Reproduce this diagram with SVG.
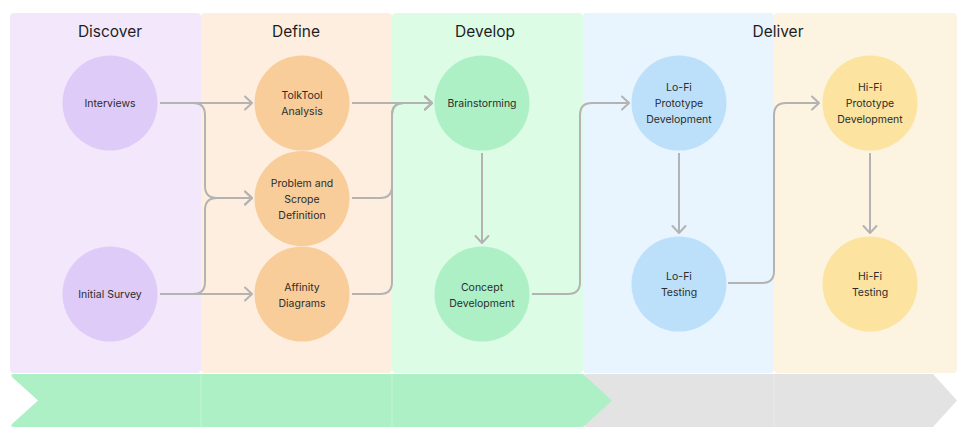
<svg xmlns="http://www.w3.org/2000/svg" width="957" height="430" viewBox="0 0 957 430">
<defs>
<style>
.title{font-family:Inter,"Liberation Sans",sans-serif;font-size:15.5px;fill:#1e1e1e;text-anchor:middle}
.lbl{font-family:Inter,"Liberation Sans",sans-serif;font-size:10.5px;fill:#2c2c2c;text-anchor:middle}
.conn{fill:none;stroke:#b3b3b3;stroke-width:2}
.sep{stroke:#ffffff;stroke-width:1;opacity:0.3}
</style>
<marker id="arr" markerUnits="userSpaceOnUse" markerWidth="20" markerHeight="20" viewBox="-10 -10 20 20" refX="0" refY="0" orient="auto" overflow="visible">
<path d="M-7,-6.5 L0,0 L-7,6.5" fill="none" stroke="#b3b3b3" stroke-width="2" stroke-linecap="round" stroke-linejoin="round"/>
</marker>
</defs>
<rect width="957" height="430" fill="#ffffff"/>
<g id="panels">
<rect x="10" y="13" width="191" height="360" rx="4" fill="#f3e8fb"/>
<rect x="201" y="13" width="191" height="360" rx="4" fill="#fdeee0"/>
<rect x="392" y="13" width="191" height="360" rx="4" fill="#dcfce6"/>
<rect x="583" y="13" width="191" height="360" rx="4" fill="#e8f4fe"/>
<rect x="774" y="13" width="183" height="360" rx="4" fill="#fdf3e1"/>
<text class="title" x="110" y="37">Discover</text>
<text class="title" x="296" y="37">Define</text>
<text class="title" x="485" y="37">Develop</text>
<text class="title" x="778" y="37">Deliver</text>
</g>
<g id="timeline">
<path d="M587,374 H933 L957,400.5 L933,427 H587 Q583,427 583,423 V378 Q583,374 587,374 Z" fill="#e3e3e3"/>
<path d="M14,374 H583 L612,400.5 L583,427 H14 Q10,427 12,424 L38,400.5 L12,377 Q10,374 14,374 Z" fill="#adf0c6"/>
<line class="sep" x1="201" y1="374" x2="201" y2="427"/>
<line class="sep" x1="392" y1="374" x2="392" y2="427"/>
<line class="sep" x1="774" y1="374" x2="774" y2="427"/>
</g>
<g id="connectors">
<path class="conn" d="M160,103 H252" marker-end="url(#arr)"/>
<path class="conn" d="M160,103 H193 Q205,103 205,115 V186 Q205,198 217,198 H252" marker-end="url(#arr)"/>
<path class="conn" d="M160,294 H193 Q205,294 205,282 V210 Q205,198 217,198 H252" marker-end="url(#arr)"/>
<path class="conn" d="M160,294 H252" marker-end="url(#arr)"/>
<path class="conn" d="M352,103 H432" marker-end="url(#arr)"/>
<path class="conn" d="M352,198 H380 Q392,198 392,186 V115 Q392,103 404,103 H432" marker-end="url(#arr)"/>
<path class="conn" d="M352,294 H380 Q392,294 392,282 V115 Q392,103 404,103 H432" marker-end="url(#arr)"/>
<path class="conn" d="M482,153 V243" marker-end="url(#arr)"/>
<path class="conn" d="M532,294 H568 Q580,294 580,282 V115 Q580,103 592,103 H629" marker-end="url(#arr)"/>
<path class="conn" d="M679,153 V233" marker-end="url(#arr)"/>
<path class="conn" d="M728,283 H762 Q774,283 774,271 V115 Q774,103 786,103 H819" marker-end="url(#arr)"/>
<path class="conn" d="M870,153 V233" marker-end="url(#arr)"/>
</g>
<g id="interviews">
<circle cx="110" cy="103" r="47.5" fill="#dfcbf8"/>
<text class="lbl" x="110" y="107">Interviews</text>
</g>
<g id="initial-survey">
<circle cx="110" cy="294" r="47.5" fill="#dfcbf8"/>
<text class="lbl" x="110" y="298">Initial Survey</text>
</g>
<g id="tolktool-analysis">
<circle cx="302" cy="103" r="47.5" fill="#f9cd9a"/>
<text class="lbl" x="302" y="99">TolkTool</text>
<text class="lbl" x="302" y="115">Analysis</text>
</g>
<g id="problem-scope">
<circle cx="302" cy="198.5" r="47.5" fill="#f9cd9a"/>
<text class="lbl" x="302" y="187">Problem and</text>
<text class="lbl" x="302" y="203">Scrope</text>
<text class="lbl" x="302" y="219">Definition</text>
</g>
<g id="affinity-diagrams">
<circle cx="302" cy="294" r="47.5" fill="#f9cd9a"/>
<text class="lbl" x="302" y="291">Affinity</text>
<text class="lbl" x="302" y="307">Diagrams</text>
</g>
<g id="brainstorming">
<circle cx="482" cy="103" r="47.5" fill="#aef0c6"/>
<text class="lbl" x="482" y="107">Brainstorming</text>
</g>
<g id="concept-development">
<circle cx="482" cy="294" r="47.5" fill="#aef0c6"/>
<text class="lbl" x="482" y="291">Concept</text>
<text class="lbl" x="482" y="307">Development</text>
</g>
<g id="lofi-prototype">
<circle cx="679" cy="103" r="47.5" fill="#bde0fa"/>
<text class="lbl" x="679" y="91">Lo-Fi</text>
<text class="lbl" x="679" y="107">Prototype</text>
<text class="lbl" x="679" y="123">Development</text>
</g>
<g id="lofi-testing">
<circle cx="679" cy="284" r="47.5" fill="#bde0fa"/>
<text class="lbl" x="679" y="280">Lo-Fi</text>
<text class="lbl" x="679" y="296">Testing</text>
</g>
<g id="hifi-prototype">
<circle cx="870" cy="103" r="47.5" fill="#fce3a0"/>
<text class="lbl" x="870" y="91">Hi-Fi</text>
<text class="lbl" x="870" y="107">Prototype</text>
<text class="lbl" x="870" y="123">Development</text>
</g>
<g id="hifi-testing">
<circle cx="870" cy="284" r="47.5" fill="#fce3a0"/>
<text class="lbl" x="870" y="280">Hi-Fi</text>
<text class="lbl" x="870" y="296">Testing</text>
</g>
</svg>
